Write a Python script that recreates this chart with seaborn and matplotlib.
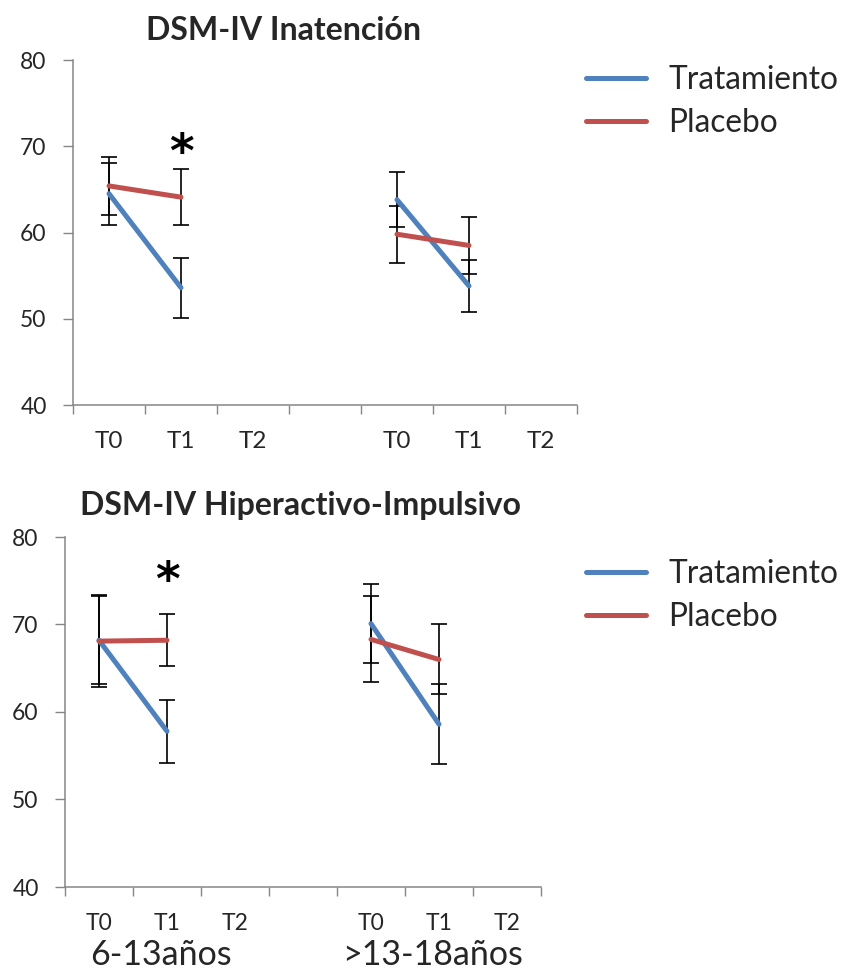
import matplotlib
matplotlib.use("Agg")
import matplotlib.pyplot as plt
import numpy as np
import pandas as pd
import seaborn as sns

sns.set_theme(style="white")
plt.rcParams["font.family"] = ["Lato", "DejaVu Sans"]

# Category slots on the x axis (an empty slot separates the age groups)
categories = ["T0", "T1", "T2", "", "T0", "T1", "T2"]
age_groups = ["6-13años", ">13-18años"]
group_start = [0, 4]
measured_times = ["T0", "T1"]
series_names = ["Tratamiento", "Placebo"]
palette = {"Tratamiento": "#4F81BD", "Placebo": "#C0504D"}

# DSM-IV Inatención — mean and error half-width, per age group, at [T0, T1]
inat_trat_mean = [[64.5, 53.6], [63.8, 53.8]]
inat_trat_err = [[3.6, 3.5], [3.2, 3.0]]
inat_plac_mean = [[65.4, 64.1], [59.8, 58.5]]
inat_plac_err = [[3.35, 3.25], [3.3, 3.3]]

# DSM-IV Hiperactivo-Impulsivo
hip_trat_mean = [[68.2, 57.8], [70.1, 58.6]]
hip_trat_err = [[5.0, 3.6], [4.5, 4.6]]
hip_plac_mean = [[68.1, 68.2], [68.3, 66.0]]
hip_plac_err = [[5.3, 3.0], [4.9, 4.0]]

y_ticks = [40, 50, 60, 70, 80]


def long_table(trat_mean, trat_err, plac_mean, plac_err):
    rows = []
    for name, means, errs in (("Tratamiento", trat_mean, trat_err),
                              ("Placebo", plac_mean, plac_err)):
        for g, age in enumerate(age_groups):
            for t, time in enumerate(measured_times):
                slot = categories.index(time, group_start[g])
                rows.append({"series": name, "age": age, "time": time,
                             "x": slot, "mean": means[g][t], "err": errs[g][t]})
    return pd.DataFrame(rows)


def draw_panel(ax, df, title, title_x, title_y, legend_y, star_y,
               label_pad, label_size):
    for _, r in df.iterrows():
        ax.errorbar(r["x"], r["mean"], yerr=r["err"], fmt="none",
                    ecolor="black", elinewidth=1.2, capsize=5.5,
                    capthick=1.2, zorder=2)
    sns.lineplot(data=df, x="x", y="mean", hue="series", units="age",
                 estimator=None, palette=palette, hue_order=series_names,
                 linewidth=3.6, ax=ax, zorder=3, solid_capstyle="round")
    ax.set_xlim(-0.5, len(categories) - 0.5)
    ax.set_ylim(40, 80)
    ax.set_yticks(y_ticks)
    ax.set_xticks(np.arange(len(categories) + 1) - 0.5)
    ax.set_xticklabels([])
    ax.set_xticks(np.arange(len(categories)), minor=True)
    ax.set_xticklabels(categories, minor=True, fontsize=label_size)
    ax.tick_params(axis="x", which="major", length=6.5, width=1,
                   color="#868686", direction="out", bottom=True)
    ax.tick_params(axis="x", which="minor", length=0, pad=label_pad)
    ax.tick_params(axis="y", length=7, width=1, color="#868686",
                   direction="out", left=True, labelsize=16.5, pad=12)
    for s in ("top", "right"):
        ax.spines[s].set_visible(False)
    for s in ("left", "bottom"):
        ax.spines[s].set_color("#868686")
        ax.spines[s].set_linewidth(1.1)
    ax.set_xlabel("")
    ax.set_ylabel("")
    ax.text(1, star_y, "*", ha="center", va="baseline", fontsize=34,
            fontweight="bold", color="black", family="DejaVu Sans")
    fig.text(title_x, title_y, title, ha="center", va="center",
             fontsize=23, fontweight="bold")
    handles, labels = ax.get_legend_handles_labels()
    ax.legend(handles, labels, loc="upper left",
              bbox_to_anchor=(586 / 843, legend_y),
              bbox_transform=fig.transFigure, frameon=False, fontsize=22.8,
              handlelength=1.9, handletextpad=0.7, labelspacing=0.42,
              borderpad=0, borderaxespad=0)


W, H = 843, 972
fig = plt.figure(figsize=(W / 100, H / 100), dpi=100)

ax_top = fig.add_axes([73 / W, 1 - 405 / H, (577 - 73) / W, (405 - 60) / H])
ax_bot = fig.add_axes([65 / W, 1 - 887 / H, (541 - 65) / W, (887 - 537) / H])

df_inat = long_table(inat_trat_mean, inat_trat_err, inat_plac_mean, inat_plac_err)
df_hip = long_table(hip_trat_mean, hip_trat_err, hip_plac_mean, hip_plac_err)

draw_panel(ax_top, df_inat, "DSM-IV Inatención", 283 / W, 1 - 31 / H,
           1 - 65 / H, 67.6, 19, 17.5)
draw_panel(ax_bot, df_hip, "DSM-IV Hiperactivo-Impulsivo", 301 / W,
           1 - 506 / H, 1 - 559 / H, 73.4, 19, 16.5)

# Age-group labels beneath the lower panel, near the bottom edge
for g, age in enumerate(age_groups):
    slot = categories.index("T1", group_start[g])
    ax_bot.text(slot - 0.09, -(965 - 887) / (887 - 537), age,
                transform=ax_bot.get_xaxis_transform(),
                ha="center", va="baseline", fontsize=24.5)

fig.savefig("out.png", dpi=100)
